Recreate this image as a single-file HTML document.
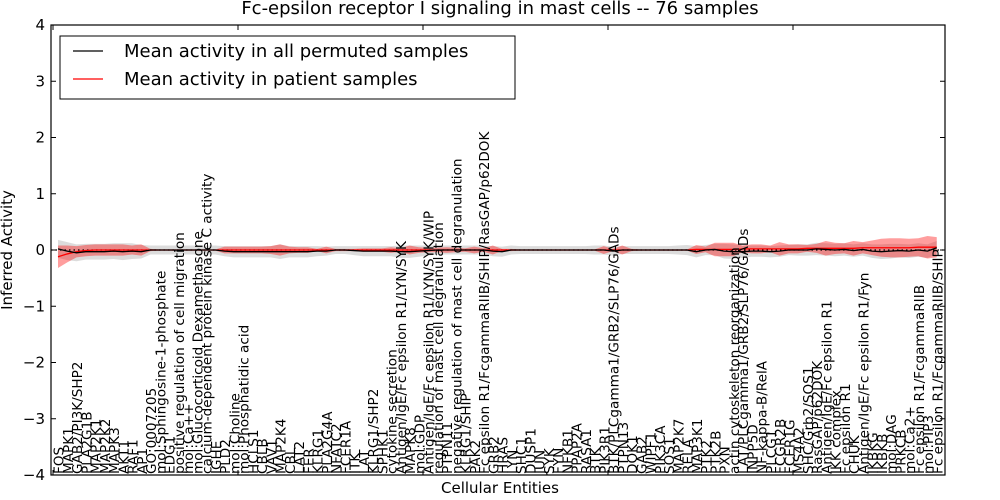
<!DOCTYPE html>
<html><head><meta charset="utf-8"><style>
body{margin:0;background:#fff;}
svg{display:block;font-family:"DejaVu Sans","Liberation Sans",sans-serif;}
</style></head><body>
<svg id="chart" width="1000" height="500" viewBox="0 0 1000 500" xmlns="http://www.w3.org/2000/svg">
<rect width="1000" height="500" fill="#fff"/>
<text x="500" y="14" text-anchor="middle" font-size="18">Fc-epsilon receptor I signaling in mast cells -- 76 samples</text>
<g id="bands"></g>
<g id="lines"></g>
<g id="labels"></g>
<g id="axes"></g>
<text transform="translate(12,250) rotate(-90)" text-anchor="middle" font-size="15">Inferred Activity</text>
<text x="500" y="493" text-anchor="middle" font-size="15">Cellular Entities</text>
<g>
<rect x="60" y="36" width="455" height="63" fill="#fff" stroke="#000" stroke-width="1"/>
<line x1="73" y1="51" x2="103" y2="51" stroke="#000" stroke-width="1.3"/>
<text x="124" y="57" font-size="18">Mean activity in all permuted samples</text>
<line x1="73" y1="79" x2="103" y2="79" stroke="#f00" stroke-width="1.3"/>
<text x="124" y="85" font-size="18">Mean activity in patient samples</text>
</g>
</svg>
<script>
const categories=["FOS","MAPK1","GAB2/PI3K/SHP2","PLA2G1B","MAP2K1","MAP2K2","MAPK3","AKT1","RAF1","AP1",
"GO:0007205","mol:Sphingosine-1-phosphate","EDG1","positive regulation of cell migration","mol:Ca++","mol:Glucocorticoid Dexamethasone","calcium-dependent protein kinase C activity","IGHE","PLD2","mol:Choline",
"mol:Phosphatidic acid","HCLS1","CBLB","VAV1","MAP2K4","CBL","LAT2","FER","KLRG1","PLA2G4A",
"NFATC2","FCER1A","ITK","LAT","KLRG1/SHP2","SPHK1","cytokine secretion","Antigen/IgE/Fc epsilon R1/LYN/SYK","MAPK8","mol:GDP",
"Antigen/IgE/Fc epsilon R1/LYN/SYK/WIP","regulation of mast cell degranulation","PTPN11","negative regulation of mast cell degranulation","KLRG1/SHIP","PAK2","Fc epsilon R1/FcgammaRIIB/SHIP/RasGAP/p62DOK","GRB2","HRAS","LYN",
"SHC1","DUSP1","JUN","SYK","FYN","NFKB1","PPAP2A","RASA1","BTK","PIK3R1",
"BTK/PLCgamma1/GRB2/SLP76/GADs","PTPN13","DOK1","GAB2","WIPF1","PIK3CA","SOS1","MAP2K7","RELA","MAP3K1",
"PTK2","PTK2B","PXN","actin cytoskeleton reorganization","LAT/PLCgamma1/GRB2/SLP76/GADs","INPP5D","NF-kappa-B/RelA","PLCG1","FCGR2B","FCER1G",
"MS4A2","SHC/Grb2/SOS1","RasGAP/p62DOK","Antigen/IgE/Fc epsilon R1","IKK complex","Fc epsilon R1","CHUK","Antigen/IgE/Fc epsilon R1/Fyn","IKBKG","IKBKB",
"mol:DAG","PRKCB","mol:Ca2+","Fc epsilon R1/FcgammaRIIB","mol:PIP3","Fc epsilon R1/FcgammaRIIB/SHIP"];
const permMean=[0.02,-0.02,-0.05,-0.03,-0.03,-0.03,-0.02,-0.03,-0.02,-0.03,
0,0,0,0,0,0,0,0,-0.02,-0.03,
-0.03,-0.03,-0.03,-0.03,-0.03,-0.03,-0.03,-0.03,-0.02,-0.02,
0,0,-0.01,-0.02,-0.02,-0.02,-0.02,-0.03,-0.03,-0.02,
-0.01,0,0,0,0,0,0,-0.02,-0.03,0,
0,0,0,0,0,0,0,0,0,0,
-0.02,0,0,0,0,0,0,0,0,-0.03,
0,0.01,-0.02,-0.03,-0.03,-0.02,-0.02,-0.03,-0.02,0,
0,0,0.02,0.01,0,0.01,-0.01,0.01,-0.02,-0.03,
-0.02,-0.01,-0.02,0,-0.02,0.04];
const permSpread=[0.16,0.16,0.15,0.14,0.14,0.14,0.14,0.15,0.14,0.12,
0.08,0.08,0.08,0.08,0.08,0.08,0.08,0.08,0.09,0.1,
0.1,0.1,0.1,0.1,0.13,0.1,0.1,0.1,0.09,0.08,
0.07,0.07,0.08,0.09,0.09,0.09,0.09,0.11,0.11,0.1,
0.09,0.08,0.08,0.08,0.08,0.08,0.08,0.09,0.09,0.08,
0.07,0.07,0.07,0.07,0.07,0.07,0.07,0.07,0.08,0.08,
0.08,0.07,0.07,0.07,0.07,0.07,0.07,0.08,0.09,0.1,
0.09,0.1,0.13,0.13,0.11,0.1,0.1,0.1,0.1,0.09,
0.1,0.1,0.11,0.11,0.11,0.11,0.11,0.11,0.12,0.13,
0.13,0.12,0.12,0.12,0.12,0.12];
const patientMean=[-0.12,-0.07,-0.03,-0.01,0,0,0,0,0,0,
0,0,0,0,0,0,0,0,0,0,
0,0,0,0,0,0,0,0,0,0,
0,0,0,0,0,0,0,0,0,0,
0,0,0,0,0,0,0,0,0,0,
0,0,0,0,0,0,0,0,0,0,
0,0,0,0,0,0,0,0,0,0.01,
0.01,0.01,0.01,0.01,0.02,0.02,0.02,0.02,0.02,0.02,
0.02,0.03,0.03,0.03,0.03,0.03,0.03,0.04,0.04,0.04,
0.04,0.04,0.04,0.05,0.05,0.05];
const patientSpread=[0.2,0.15,0.1,0.1,0.1,0.1,0.1,0.1,0.08,0.1,
0.02,0.01,0.01,0.01,0.01,0.01,0.01,0.01,0.06,0.06,
0.06,0.06,0.06,0.07,0.1,0.06,0.05,0.05,0.02,0.06,
0.02,0.02,0.02,0.03,0.03,0.03,0.05,0.03,0.08,0.05,
0.04,0.04,0.05,0.04,0.03,0.06,0.03,0.08,0.02,0.02,
0.01,0.01,0.01,0.01,0.01,0.01,0.01,0.01,0.01,0.07,
0.02,0.08,0.02,0.01,0.01,0.01,0.01,0.01,0.01,0.08,
0.05,0.12,0.12,0.12,0.06,0.08,0.08,0.06,0.12,0.08,
0.08,0.06,0.08,0.13,0.1,0.09,0.13,0.1,0.13,0.16,
0.17,0.17,0.16,0.16,0.2,0.18];
const yTicks=[-4,-3,-2,-1,0,1,2,3,4];
const yTickLabels=["\u22124","\u22123","\u22122","\u22121","0","1","2","3","4"];

const L=51,R=945,T=25,B=475;
function xs(i){return 58+i*9.25;}
function ys(v){return T+(4-v)*(B-T)/8;}
const NS="http://www.w3.org/2000/svg";
function mk(tag,attrs,parent){const e=document.createElementNS(NS,tag);for(const k in attrs)e.setAttribute(k,attrs[k]);parent.appendChild(e);return e;}
const bands=document.getElementById('bands'),lines=document.getElementById('lines'),labels=document.getElementById('labels'),axes=document.getElementById('axes');
function band(mean,sp,fill,op,name){
  let up=mean.map((m,i)=>xs(i)+','+ys(m+sp[i])),dn=mean.map((m,i)=>xs(i)+','+ys(m-sp[i])).reverse();
  const p=mk('polygon',{points:up.concat(dn).join(' '),fill:fill,'fill-opacity':op},bands);
  
  
}
band(permMean,permSpread,'#c0c0c0',0.55,'permuted-band');
band(patientMean,patientSpread,'#f00',0.38,'patient-band');
const zl=mk('line',{x1:L,x2:R,y1:ys(0),y2:ys(0),stroke:'#000','stroke-dasharray':'1.5,3','stroke-width':1.2},lines);


function line(arr,col,name){
  const p=mk('polyline',{points:arr.map((v,i)=>xs(i)+','+ys(v)).join(' '),fill:'none',stroke:col,'stroke-width':1.3},lines);
  
  
}
line(patientMean,'#f00','patient-mean-line');
line(permMean,'#000','permuted-mean-line');
categories.forEach((c,i)=>{
  const t=mk('text',{transform:'translate('+(xs(i)+5.5)+','+(B-1)+') rotate(-90)','font-size':13.6},labels);
  t.textContent=c;
  
  
});
const fr=mk('rect',{x:L,y:T,width:R-L,height:B-T,fill:'none',stroke:'#000','stroke-width':1.2},axes);


yTicks.forEach((v,i)=>{
  const y=ys(v);
  mk('line',{x1:L,x2:L+5,y1:y,y2:y,stroke:'#000'},axes);
  mk('line',{x1:R-5,x2:R,y1:y,y2:y,stroke:'#000'},axes);
  const t=mk('text',{x:L-6,y:y+5,'text-anchor':'end','font-size':15},axes);
  t.textContent=yTickLabels[i];
  
  
});
[0,20,40,60,80].forEach(i=>{
  const x=xs(i)-5;
  if(x<=L+1)return;
  mk('line',{x1:x,x2:x,y1:T,y2:T+5,stroke:'#000'},axes);
  mk('line',{x1:x,x2:x,y1:B-5,y2:B,stroke:'#000'},axes);
});
</script>
</body></html>
